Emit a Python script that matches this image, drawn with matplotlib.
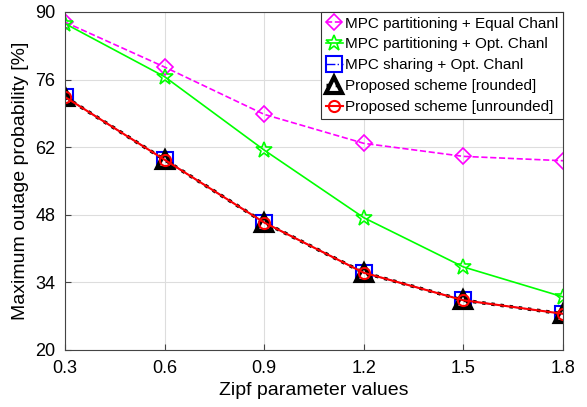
import matplotlib
matplotlib.use("Agg")
import matplotlib.pyplot as plt

zipf = [0.3, 0.6, 0.9, 1.2, 1.5, 1.8]
mpc_part_equal = [87.9, 78.6, 68.8, 62.8, 60.1, 59.2]
mpc_part_opt = [87.6, 76.6, 61.4, 47.4, 37.2, 31.0]
mpc_sharing_opt = [72.4, 59.4, 46.4, 36.0, 30.3, 27.5]
prop_rounded = [72.4, 59.4, 46.4, 36.0, 30.3, 27.5]
prop_unrounded = [72.4, 59.4, 46.4, 36.0, 30.3, 27.5]
yticks = [20, 34, 48, 62, 76, 90]

plt.rcParams['font.family'] = ['Liberation Sans', 'DejaVu Sans']

fig = plt.figure(figsize=(5.87, 4.07), dpi=100)
ax = fig.add_axes([65/587, 1 - 350/407, (563-65)/587, (350-12)/407])

ax.plot(zipf, mpc_part_equal, '--', color='#ff00ff', marker='D', ms=8, mfc='none', mew=1.2, lw=1.2,
        label='MPC partitioning + Equal Chanl')
ax.plot(zipf, mpc_part_opt, '-', color='#00ff00', marker='*', ms=12, mfc='none', mew=1.2, lw=1.2,
        label='MPC partitioning + Opt. Chanl')
ax.plot(zipf, mpc_sharing_opt, '-.', color='#0000ff', marker='s', ms=11, mfc='none', mew=1.5, lw=1.0,
        label='MPC sharing + Opt. Chanl')
ax.plot(zipf, prop_rounded, ':', color='black', marker='^', ms=12, mfc='none', mew=3.0, lw=2.5,
        label='Proposed scheme [rounded]')
ax.plot(zipf, prop_unrounded, '-', color='red', marker='o', ms=8, mfc='none', mew=1.5, lw=1.5,
        label='Proposed scheme [unrounded]')

ax.set_xlim(0.3, 1.8)
ax.set_ylim(20, 90)
ax.set_xticks(zipf)
ax.set_xticklabels(['0.3', '0.6', '0.9', '1.2', '1.5', '1.8'])
ax.set_yticks(yticks)
ax.tick_params(direction='in', labelsize=13, length=4, color='#444444', pad=7)
ax.grid(True, color='#dddddd', lw=0.8)
ax.set_axisbelow(True)
for s in ax.spines.values():
    s.set_color('#444444')
    s.set_linewidth(0.8)
ax.set_xlabel('Zipf parameter values', fontsize=14, labelpad=4)
ax.set_ylabel('Maximum outage probability [%]', fontsize=14, labelpad=4)

leg = ax.legend(loc='upper right', fontsize=11, fancybox=False, edgecolor='#333333',
                framealpha=1, handlelength=1.1, handletextpad=0.15, borderpad=0.3,
                labelspacing=0.45, borderaxespad=0.0, bbox_to_anchor=(1.0, 1.0))
leg.get_frame().set_linewidth(0.8)

fig.savefig('out.png', dpi=100)
